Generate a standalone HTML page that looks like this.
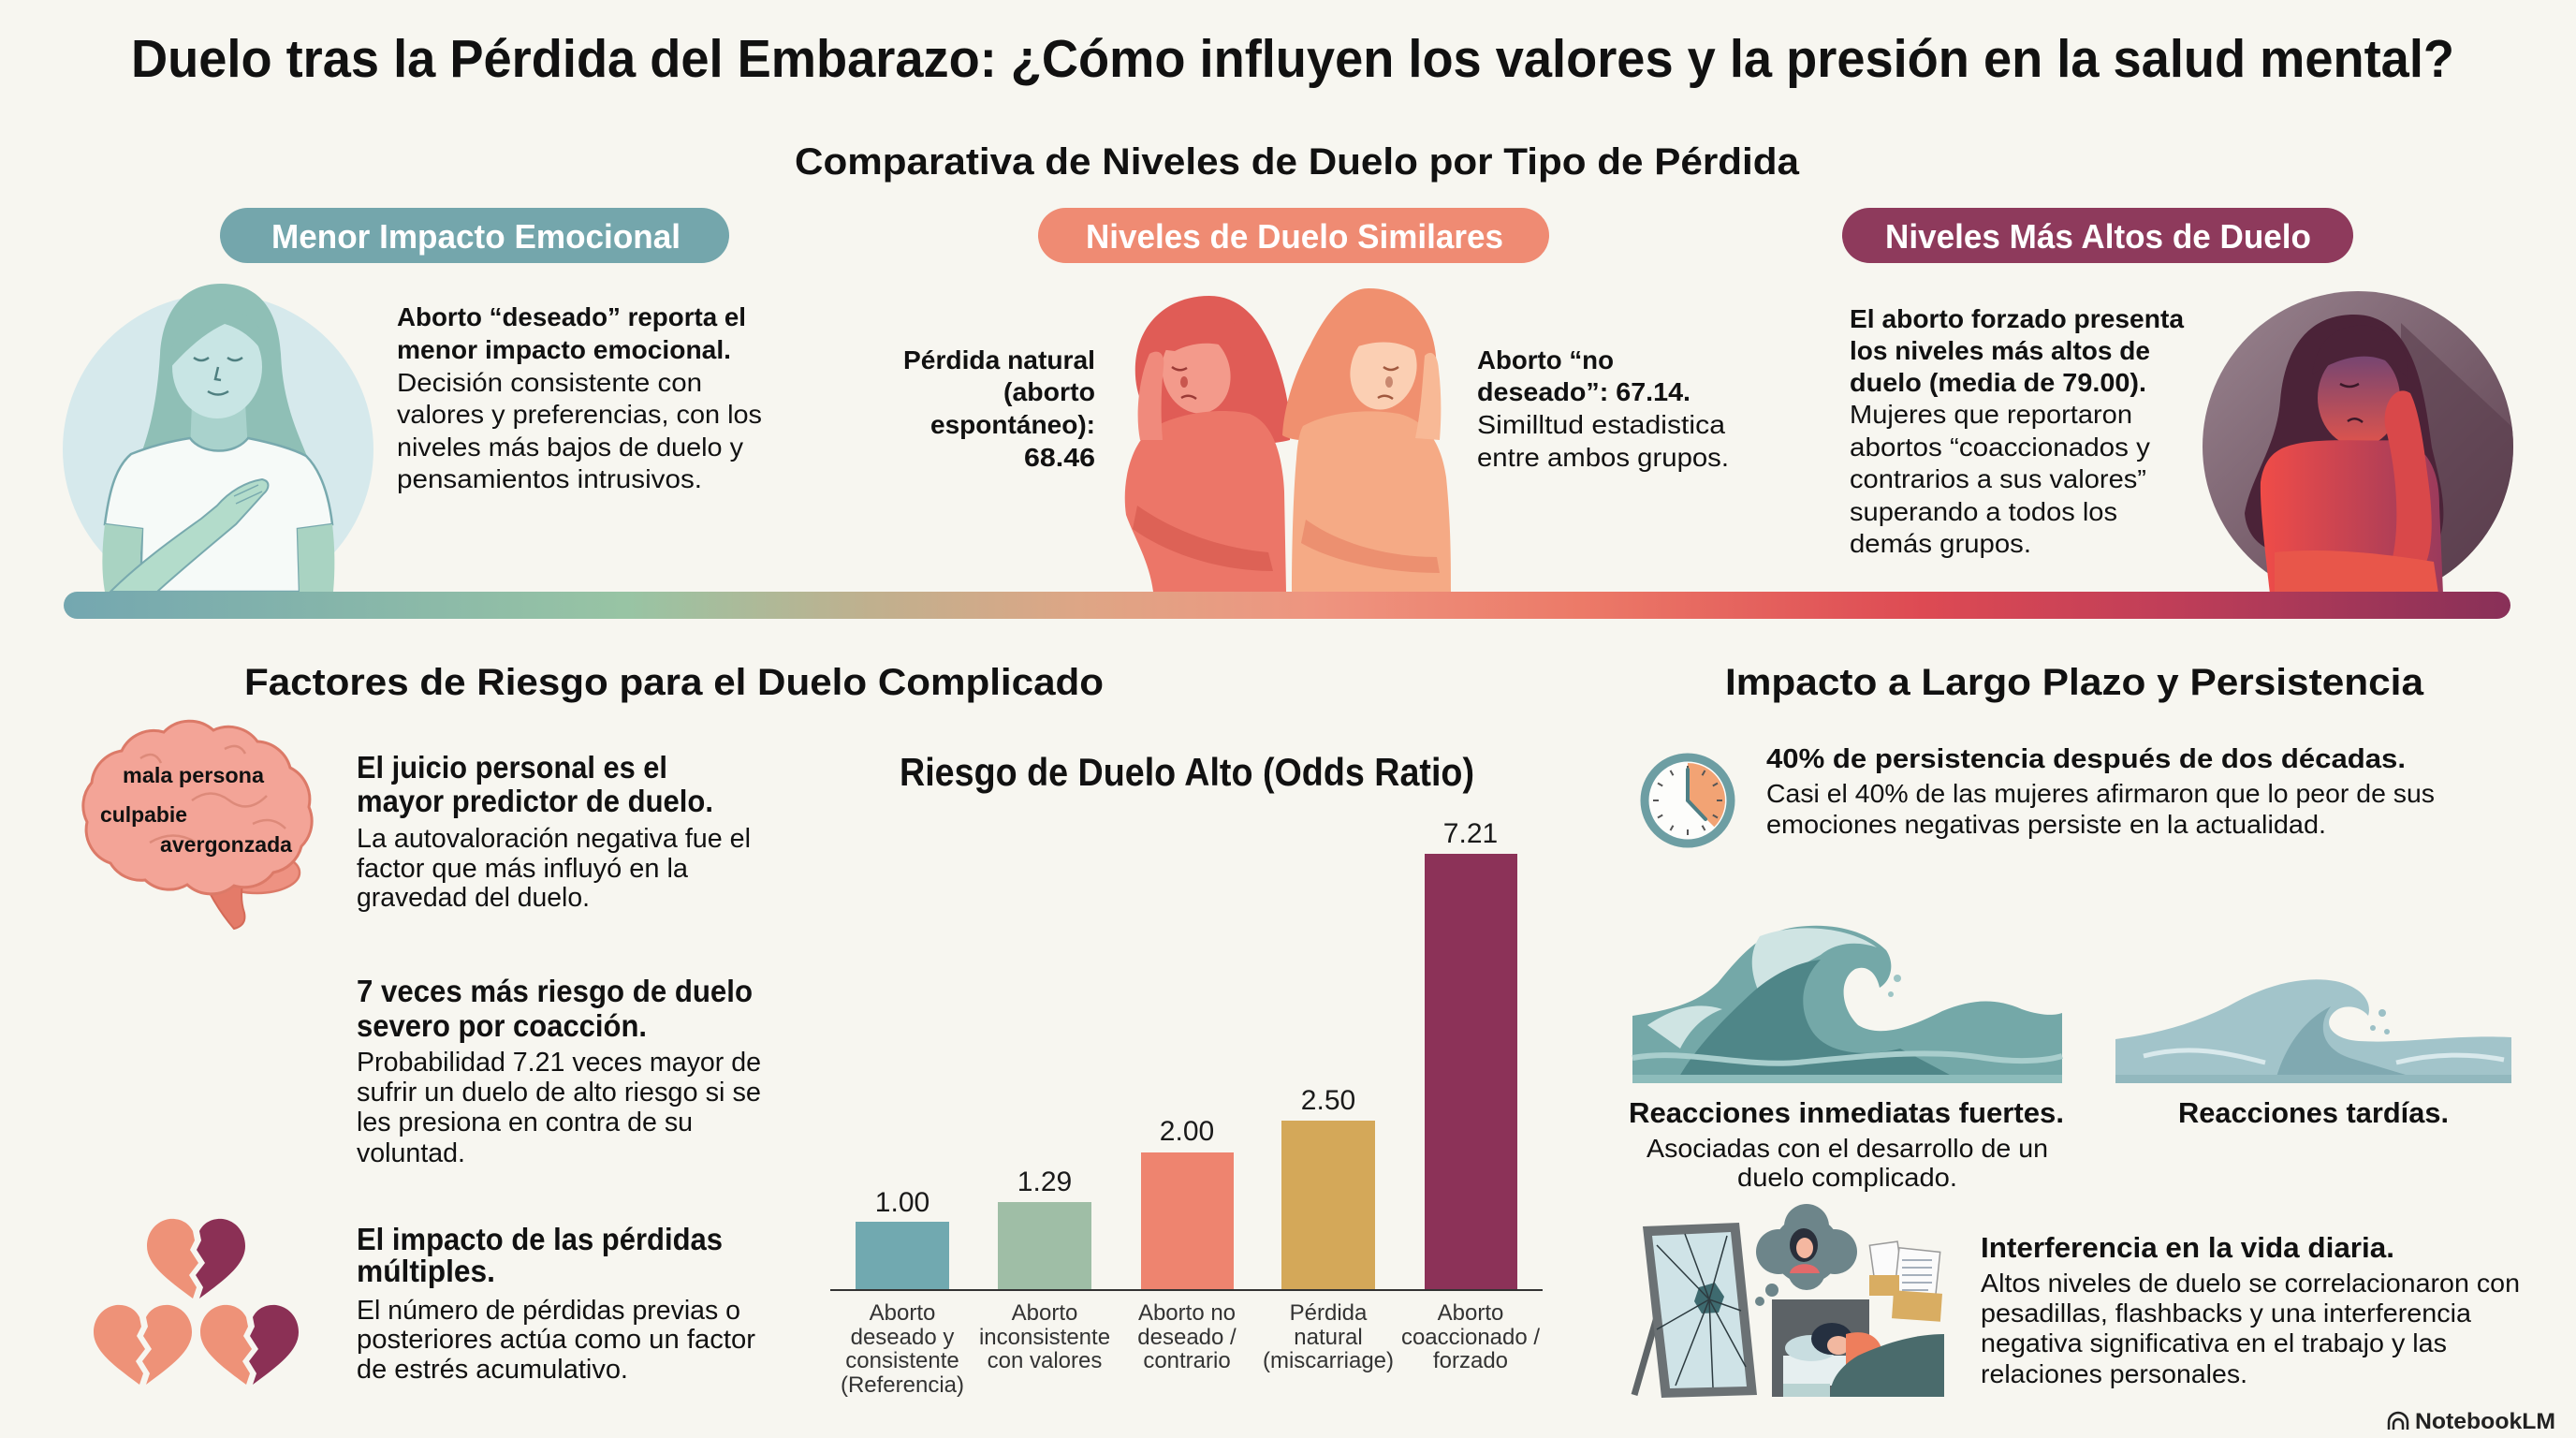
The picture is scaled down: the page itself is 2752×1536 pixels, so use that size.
<!DOCTYPE html>
<html lang="es">
<head>
<meta charset="utf-8">
<title>Duelo tras la Pérdida del Embarazo</title>
<style>
  html,body{margin:0;padding:0;background:#f7f6f0;}
  svg{display:block;font-family:"Liberation Sans","DejaVu Sans",sans-serif;}
  .b{font-weight:bold;}
</style>
</head>
<body>
<svg width="2752" height="1536" viewBox="0 0 2752 1536" xmlns="http://www.w3.org/2000/svg">
<defs>
  <linearGradient id="bar" x1="0" y1="0" x2="1" y2="0">
    <stop offset="0" stop-color="#74a7b0"/>
    <stop offset="0.23" stop-color="#98c4a4"/>
    <stop offset="0.33" stop-color="#c0b08e"/>
    <stop offset="0.42" stop-color="#dfa585"/>
    <stop offset="0.51" stop-color="#ee9580"/>
    <stop offset="0.62" stop-color="#ec7a68"/>
    <stop offset="0.76" stop-color="#dd4a53"/>
    <stop offset="0.86" stop-color="#c03e58"/>
    <stop offset="1" stop-color="#883058"/>
  </linearGradient>
  <linearGradient id="circ" x1="0" y1="0" x2="1" y2="1">
    <stop offset="0" stop-color="#9a8590"/>
    <stop offset="1" stop-color="#5a3c4c"/>
  </linearGradient>
  <linearGradient id="faceR" x1="0" y1="0" x2="0" y2="1">
    <stop offset="0" stop-color="#6e4474"/>
    <stop offset="1" stop-color="#e0544c"/>
  </linearGradient>
  <linearGradient id="bodyR" x1="0" y1="0" x2="1" y2="0">
    <stop offset="0" stop-color="#f04c48"/>
    <stop offset="1" stop-color="#9a3a5c"/>
  </linearGradient>
  <clipPath id="cR"><circle cx="2519" cy="477" r="166"/></clipPath>
</defs>

<rect width="2752" height="1536" fill="#f7f6f0"/>

<!-- Titles -->
<text x="140" y="82" font-size="57" class="b" fill="#111" textLength="2482" lengthAdjust="spacingAndGlyphs">Duelo tras la Pérdida del Embarazo: ¿Cómo influyen los valores y la presión en la salud mental?</text>
<text x="849" y="186" font-size="40" class="b" fill="#111" textLength="1073" lengthAdjust="spacingAndGlyphs">Comparativa de Niveles de Duelo por Tipo de Pérdida</text>

<!-- Pills -->
<rect x="235" y="222" width="544" height="59" rx="29.5" fill="#74a6ac"/>
<text x="290" y="265" font-size="36" class="b" fill="#fff" textLength="437" lengthAdjust="spacingAndGlyphs">Menor Impacto Emocional</text>
<rect x="1109" y="222" width="546" height="59" rx="29.5" fill="#ef8b73"/>
<text x="1160" y="265" font-size="36" class="b" fill="#fff" textLength="446" lengthAdjust="spacingAndGlyphs">Niveles de Duelo Similares</text>
<rect x="1968" y="222" width="546" height="59" rx="29.5" fill="#8e3a5c"/>
<text x="2014" y="265" font-size="36" class="b" fill="#fff" textLength="455" lengthAdjust="spacingAndGlyphs">Niveles Más Altos de Duelo</text>

<!-- Left figure (calm woman) -->
<circle cx="233" cy="480" r="166" fill="#d6e9ec"/>
<path d="M236 303 C196 303 174 332 171 378 C168 428 160 462 148 492 L330 492 C316 458 302 428 300 378 C297 330 276 303 236 303 Z" fill="#8fbfb6"/>
<path d="M205 430 L262 430 L265 482 L203 482 Z" fill="#a9d2cc"/>
<ellipse cx="232" cy="392" rx="48" ry="55" fill="#c8e5e4"/>
<path d="M180 395 C182 352 205 330 236 330 C266 330 288 352 290 392 C280 370 262 352 240 346 C220 355 200 372 180 395 Z" fill="#8fbfb6"/>
<path d="M207 382 Q215 388 223 382 M243 382 Q251 388 259 382 M233 392 L230 405 L236 406 M222 418 Q233 425 244 418" stroke="#4f7f80" stroke-width="2.5" fill="none"/>
<path d="M140 485 C165 475 190 470 203 468 C215 485 250 487 265 468 C285 472 310 478 327 487 C345 505 352 535 355 560 L318 565 L320 632 L150 632 L152 565 L112 560 C116 530 122 500 140 485 Z" fill="#f6faf8" stroke="#78a9ae" stroke-width="2.5"/>
<path d="M112 560 L152 565 C150 590 148 612 150 632 L112 632 C108 610 109 585 112 560 Z" fill="#a9d3c2"/>
<path d="M318 565 L355 560 C358 585 358 610 356 632 L320 632 Z" fill="#a9d3c2"/>
<path d="M118 632 C150 600 190 572 215 554 L232 540 C245 525 262 515 280 512 C289 514 288 522 281 528 C273 537 263 548 252 560 C226 582 192 610 168 632 Z" fill="#b3dccb" stroke="#78a9ae" stroke-width="2"/>
<path d="M250 530 L276 518 M252 538 L280 525" stroke="#78a9ae" stroke-width="1.5" fill="none"/>

<!-- Left text block -->
<g font-size="28" fill="#111">
<text x="424" y="348" class="b" textLength="373" lengthAdjust="spacingAndGlyphs">Aborto “deseado” reporta el</text>
<text x="424" y="383" class="b" textLength="357" lengthAdjust="spacingAndGlyphs">menor impacto emocional.</text>
<text x="424" y="418" textLength="326" lengthAdjust="spacingAndGlyphs">Decisión consistente con</text>
<text x="424" y="452" textLength="390" lengthAdjust="spacingAndGlyphs">valores y preferencias, con los</text>
<text x="424" y="487" textLength="370" lengthAdjust="spacingAndGlyphs">niveles más bajos de duelo y</text>
<text x="424" y="521" textLength="326" lengthAdjust="spacingAndGlyphs">pensamientos intrusivos.</text>
</g>

<!-- Middle text (left) -->
<g font-size="28" fill="#111" class="b" text-anchor="end">
<text x="1170" y="394" textLength="205" lengthAdjust="spacingAndGlyphs">Pérdida natural</text>
<text x="1170" y="428" textLength="98" lengthAdjust="spacingAndGlyphs">(aborto</text>
<text x="1170" y="463" textLength="176" lengthAdjust="spacingAndGlyphs">espontáneo):</text>
<text x="1170" y="498" textLength="76" lengthAdjust="spacingAndGlyphs">68.46</text>
</g>

<!-- Middle women -->
<path d="M1292 316 C1248 316 1216 345 1213 388 C1211 420 1222 445 1245 458 L1300 470 C1330 475 1360 475 1378 470 C1380 440 1372 405 1360 375 C1345 338 1322 316 1292 316 Z" fill="#e05c56"/>
<ellipse cx="1278" cy="398" rx="36" ry="44" transform="rotate(-15 1278 398)" fill="#f39a8b"/>
<path d="M1230 372 C1240 340 1270 325 1300 332 C1320 340 1330 360 1330 380 C1310 365 1280 362 1255 375 Z" fill="#e05c56"/>
<path d="M1230 458 C1260 440 1305 435 1335 442 C1360 452 1370 485 1372 525 L1374 632 L1232 632 C1228 600 1212 575 1203 550 C1198 515 1208 475 1230 458 Z" fill="#ec7668"/>
<path d="M1218 470 C1212 440 1218 400 1228 378 C1238 372 1245 378 1243 392 C1240 420 1240 445 1242 470 Z" fill="#f08a7c"/>
<path d="M1215 540 C1250 565 1300 585 1355 590 L1360 610 C1300 610 1245 590 1210 565 Z" fill="#dd6256"/>
<path d="M1252 392 Q1260 398 1268 393 M1262 425 Q1270 420 1278 426" stroke="#9a3a36" stroke-width="2.5" fill="none"/>
<ellipse cx="1265" cy="408" rx="4" ry="6" fill="#c9564e"/>

<path d="M1462 308 C1505 308 1530 338 1534 380 C1537 420 1528 450 1510 465 L1420 470 C1395 472 1378 470 1370 465 C1372 430 1385 395 1400 368 C1418 332 1438 308 1462 308 Z" fill="#f0906f"/>
<ellipse cx="1478" cy="395" rx="35" ry="43" transform="rotate(15 1478 395)" fill="#fbcfb3"/>
<path d="M1445 372 C1455 340 1480 328 1505 335 C1520 345 1527 365 1525 385 C1505 365 1478 360 1445 372 Z" fill="#f0906f"/>
<path d="M1392 455 C1420 440 1460 436 1495 442 C1525 450 1540 475 1545 510 C1550 560 1550 600 1550 632 L1380 632 C1380 580 1382 520 1385 490 C1386 475 1388 462 1392 455 Z" fill="#f5aa85"/>
<path d="M1512 468 C1518 440 1520 405 1522 380 C1530 372 1536 380 1537 395 C1540 420 1540 445 1538 470 Z" fill="#f8b996"/>
<path d="M1395 555 C1430 580 1480 595 1535 595 L1538 612 C1480 612 1425 600 1390 580 Z" fill="#ec9070"/>
<path d="M1478 392 Q1486 398 1494 392 M1472 425 Q1480 420 1488 426" stroke="#a0583e" stroke-width="2.5" fill="none"/>
<ellipse cx="1484" cy="408" rx="4" ry="6" fill="#c98870"/>

<!-- Middle text (right) -->
<g font-size="28" fill="#111">
<text x="1578" y="394" class="b" textLength="146" lengthAdjust="spacingAndGlyphs">Aborto “no</text>
<text x="1578" y="428" class="b" textLength="228" lengthAdjust="spacingAndGlyphs">deseado”: 67.14.</text>
<text x="1578" y="463" textLength="265" lengthAdjust="spacingAndGlyphs">Similltud estadistica</text>
<text x="1578" y="498" textLength="269" lengthAdjust="spacingAndGlyphs">entre ambos grupos.</text>
</g>

<!-- Right text block -->
<g font-size="28" fill="#111">
<text x="1976" y="350" class="b" textLength="357" lengthAdjust="spacingAndGlyphs">El aborto forzado presenta</text>
<text x="1976" y="384" class="b" textLength="321" lengthAdjust="spacingAndGlyphs">los niveles más altos de</text>
<text x="1976" y="418" class="b" textLength="317" lengthAdjust="spacingAndGlyphs">duelo (media de 79.00).</text>
<text x="1976" y="452" textLength="302" lengthAdjust="spacingAndGlyphs">Mujeres que reportaron</text>
<text x="1976" y="487" textLength="321" lengthAdjust="spacingAndGlyphs">abortos “coaccionados y</text>
<text x="1976" y="521" textLength="317" lengthAdjust="spacingAndGlyphs">contrarios a sus valores”</text>
<text x="1976" y="556" textLength="286" lengthAdjust="spacingAndGlyphs">superando a todos los</text>
<text x="1976" y="590" textLength="194" lengthAdjust="spacingAndGlyphs">demás grupos.</text>
</g>

<!-- Right circle woman -->
<circle cx="2519" cy="477" r="166" fill="url(#circ)"/>
<g clip-path="url(#cR)">
  <path d="M2565 345 L2720 490 L2720 680 L2565 680 Z" fill="#5a3d4d" opacity="0.6"/>
</g>
<path d="M2515 336 C2462 336 2440 378 2436 428 C2432 478 2405 508 2398 548 C2400 575 2420 590 2440 590 L2598 590 C2620 560 2608 520 2598 478 C2590 420 2580 336 2515 336 Z" fill="#4b2338"/>
<ellipse cx="2520" cy="425" rx="44" ry="52" fill="url(#faceR)"/>
<path d="M2470 400 C2475 360 2500 345 2530 348 C2560 352 2575 375 2572 405 C2555 380 2520 368 2470 400 Z" fill="#4b2338"/>
<path d="M2440 478 C2470 466 2520 472 2560 470 C2592 474 2606 500 2606 540 L2610 634 L2425 634 C2420 590 2414 540 2415 515 C2418 495 2426 484 2440 478 Z" fill="url(#bodyR)"/>
<path d="M2555 600 C2565 560 2560 500 2548 455 C2545 430 2560 410 2575 420 C2585 440 2590 480 2595 520 C2600 560 2598 590 2590 605 Z" fill="#d9484a"/>
<path d="M2430 590 C2480 585 2540 590 2600 600 L2605 634 L2430 634 Z" fill="#e8564a"/>
<path d="M2500 410 Q2510 416 2520 410 M2508 450 Q2516 444 2524 451" stroke="#3a1828" stroke-width="2.5" fill="none"/>

<!-- Gradient bar -->
<rect x="68" y="632" width="2614" height="29" rx="14.5" fill="url(#bar)"/>

<!-- Section headings -->
<text x="261" y="742" font-size="40" class="b" fill="#111" textLength="918" lengthAdjust="spacingAndGlyphs">Factores de Riesgo para el Duelo Complicado</text>
<text x="1843" y="742" font-size="40" class="b" fill="#111" textLength="746" lengthAdjust="spacingAndGlyphs">Impacto a Largo Plazo y Persistencia</text>

<!-- Brain -->
<ellipse cx="275" cy="932" rx="45" ry="22" fill="#ee9282" stroke="#dc7a68" stroke-width="2.5"/>
<path d="M212 928 C224 958 238 978 250 992 C258 990 263 985 261 975 C256 960 258 945 262 930 Z" fill="#e47b69" stroke="#d46a58" stroke-width="2"/>
<path d="M118 922 A38 38 0 0 1 93 878 A38 38 0 0 1 98 836 A38 38 0 0 1 130 802 A38 38 0 0 1 175 782 A38 38 0 0 1 228 780 A38 38 0 0 1 275 792 A38 38 0 0 1 310 820 A38 38 0 0 1 330 862 A38 38 0 0 1 322 904 A38 38 0 0 1 292 932 A38 38 0 0 1 250 946 A38 38 0 0 1 200 945 A38 38 0 0 1 155 940 A38 38 0 0 1 118 922 Z" fill="#f3a497" stroke="#dc7a68" stroke-width="3"/>
<path d="M150 810 Q165 800 172 815 M240 800 Q255 792 262 805 M205 855 Q225 840 245 855 T285 850 M160 900 Q185 885 210 900 M270 880 Q290 870 305 885" stroke="#dd8a7a" stroke-width="2.5" fill="none"/>
<g font-size="23" class="b" fill="#111">
<text x="131" y="836" textLength="151" lengthAdjust="spacingAndGlyphs">mala persona</text>
<text x="107" y="878" textLength="93" lengthAdjust="spacingAndGlyphs">culpabie</text>
<text x="171" y="910" textLength="141" lengthAdjust="spacingAndGlyphs">avergonzada</text>
</g>

<!-- Risk factor texts -->
<g fill="#111">
<text x="381" y="831" font-size="33" class="b" textLength="332" lengthAdjust="spacingAndGlyphs">El juicio personal es el</text>
<text x="381" y="867" font-size="33" class="b" textLength="381" lengthAdjust="spacingAndGlyphs">mayor predictor de duelo.</text>
<text x="381" y="905" font-size="29" textLength="421" lengthAdjust="spacingAndGlyphs">La autovaloración negativa fue el</text>
<text x="381" y="937" font-size="29" textLength="354" lengthAdjust="spacingAndGlyphs">factor que más influyó en la</text>
<text x="381" y="968" font-size="29" textLength="249" lengthAdjust="spacingAndGlyphs">gravedad del duelo.</text>

<text x="381" y="1070" font-size="33" class="b" textLength="423" lengthAdjust="spacingAndGlyphs">7 veces más riesgo de duelo</text>
<text x="381" y="1107" font-size="33" class="b" textLength="310" lengthAdjust="spacingAndGlyphs">severo por coacción.</text>
<text x="381" y="1144" font-size="29" textLength="432" lengthAdjust="spacingAndGlyphs">Probabilidad 7.21 veces mayor de</text>
<text x="381" y="1176" font-size="29" textLength="432" lengthAdjust="spacingAndGlyphs">sufrir un duelo de alto riesgo si se</text>
<text x="381" y="1208" font-size="29" textLength="359" lengthAdjust="spacingAndGlyphs">les presiona en contra de su</text>
<text x="381" y="1241" font-size="29" textLength="116" lengthAdjust="spacingAndGlyphs">voluntad.</text>

<text x="381" y="1335" font-size="33" class="b" textLength="391" lengthAdjust="spacingAndGlyphs">El impacto de las pérdidas</text>
<text x="381" y="1369" font-size="33" class="b" textLength="148" lengthAdjust="spacingAndGlyphs">múltiples.</text>
<text x="381" y="1409" font-size="29" textLength="410" lengthAdjust="spacingAndGlyphs">El número de pérdidas previas o</text>
<text x="381" y="1440" font-size="29" textLength="426" lengthAdjust="spacingAndGlyphs">posteriores actúa como un factor</text>
<text x="381" y="1472" font-size="29" textLength="290" lengthAdjust="spacingAndGlyphs">de estrés acumulativo.</text>
</g>

<!-- Broken hearts -->
<g transform="translate(209,1345)">
  <path d="M-3 -30 C-8 -40 -18 -44 -28 -43 C-42 -41 -52 -29 -52 -14 C-52 6 -30 22 -3 42 L1 30 L-7 17 L3 4 L-6 -10 L-1 -20 Z" fill="#ee9278"/>
  <path d="M4 -30 C9 -40 19 -44 29 -43 C43 -41 53 -29 53 -14 C53 6 31 22 4 42 L8 30 L0 17 L10 4 L1 -10 L6 -20 Z" fill="#8b3055"/>
</g>
<g transform="translate(152,1437)">
  <path d="M-3 -30 C-8 -40 -18 -44 -28 -43 C-42 -41 -52 -29 -52 -14 C-52 6 -30 22 -3 42 L1 30 L-7 17 L3 4 L-6 -10 L-1 -20 Z" fill="#ee9278"/>
  <path d="M4 -30 C9 -40 19 -44 29 -43 C43 -41 53 -29 53 -14 C53 6 31 22 4 42 L8 30 L0 17 L10 4 L1 -10 L6 -20 Z" fill="#ee9278"/>
</g>
<g transform="translate(266,1437)">
  <path d="M-3 -30 C-8 -40 -18 -44 -28 -43 C-42 -41 -52 -29 -52 -14 C-52 6 -30 22 -3 42 L1 30 L-7 17 L3 4 L-6 -10 L-1 -20 Z" fill="#ee9278"/>
  <path d="M4 -30 C9 -40 19 -44 29 -43 C43 -41 53 -29 53 -14 C53 6 31 22 4 42 L8 30 L0 17 L10 4 L1 -10 L6 -20 Z" fill="#8b3055"/>
</g>

<!-- Chart -->
<text x="961" y="839" font-size="42" class="b" fill="#111" textLength="614" lengthAdjust="spacingAndGlyphs">Riesgo de Duelo Alto (Odds Ratio)</text>
<rect x="914" y="1305" width="100" height="73" fill="#71a9b0"/>
<rect x="1066" y="1284" width="100" height="94" fill="#9fbea6"/>
<rect x="1219" y="1231" width="99" height="147" fill="#ee846f"/>
<rect x="1369" y="1197" width="100" height="181" fill="#d4a859"/>
<rect x="1522" y="912" width="99" height="466" fill="#8c3258"/>
<line x1="887" y1="1378" x2="1648" y2="1378" stroke="#333" stroke-width="2"/>
<g font-size="30" fill="#1a1a1a" text-anchor="middle">
<text x="964" y="1294">1.00</text>
<text x="1116" y="1272">1.29</text>
<text x="1268" y="1218">2.00</text>
<text x="1419" y="1185">2.50</text>
<text x="1571" y="900">7.21</text>
</g>
<g font-size="24" fill="#333" text-anchor="middle">
<text x="964" y="1410">Aborto</text>
<text x="964" y="1436">deseado y</text>
<text x="964" y="1461">consistente</text>
<text x="964" y="1487">(Referencia)</text>
<text x="1116" y="1410">Aborto</text>
<text x="1116" y="1436">inconsistente</text>
<text x="1116" y="1461">con valores</text>
<text x="1268" y="1410">Aborto no</text>
<text x="1268" y="1436">deseado /</text>
<text x="1268" y="1461">contrario</text>
<text x="1419" y="1410">Pérdida</text>
<text x="1419" y="1436">natural</text>
<text x="1419" y="1461">(miscarriage)</text>
<text x="1571" y="1410">Aborto</text>
<text x="1571" y="1436">coaccionado /</text>
<text x="1571" y="1461">forzado</text>
</g>

<!-- Clock -->
<circle cx="1803" cy="855" r="46" fill="#fdfdfb" stroke="#6d9ea3" stroke-width="9"/>
<path d="M1803 855 L1803 815 A40 40 0 0 1 1831.3 883.3 Z" fill="#f2a374"/>
<g stroke="#555" stroke-width="2">
<line x1="1803" y1="818" x2="1803" y2="824"/><line x1="1803" y1="886" x2="1803" y2="892"/>
<line x1="1766" y1="855" x2="1772" y2="855"/><line x1="1834" y1="855" x2="1840" y2="855"/>
<line x1="1821.5" y1="823" x2="1818.5" y2="828.2"/><line x1="1835" y1="836.5" x2="1829.8" y2="839.5"/>
<line x1="1835" y1="873.5" x2="1829.8" y2="870.5"/><line x1="1821.5" y1="887" x2="1818.5" y2="881.8"/>
<line x1="1784.5" y1="887" x2="1787.5" y2="881.8"/><line x1="1771" y1="873.5" x2="1776.2" y2="870.5"/>
<line x1="1771" y1="836.5" x2="1776.2" y2="839.5"/><line x1="1784.5" y1="823" x2="1787.5" y2="828.2"/>
</g>
<path d="M1803 855 L1803 822 M1803 855 L1822 875" stroke="#4f7f85" stroke-width="4" stroke-linecap="round"/>

<g fill="#111">
<text x="1887" y="820" font-size="29" class="b" textLength="683" lengthAdjust="spacingAndGlyphs">40% de persistencia después de dos décadas.</text>
<text x="1887" y="857" font-size="28" textLength="714" lengthAdjust="spacingAndGlyphs">Casi el 40% de las mujeres afirmaron que lo peor de sus</text>
<text x="1887" y="890" font-size="28" textLength="598" lengthAdjust="spacingAndGlyphs">emociones negativas persiste en la actualidad.</text>
</g>

<!-- Big wave -->
<path d="M1744 1157 L1744 1085 C1775 1080 1810 1075 1835 1050 C1860 1020 1880 995 1920 990 C1960 985 1995 995 2015 1015 C2025 1030 2020 1048 2008 1055 C2005 1040 1995 1030 1982 1035 C1965 1045 1965 1075 1985 1095 C2010 1110 2045 1095 2075 1080 C2105 1068 2130 1065 2160 1078 C2180 1085 2195 1085 2203 1082 L2203 1157 Z" fill="#74a8a8"/>
<path d="M1880 1000 C1920 985 1975 990 2005 1012 C1985 1005 1962 1006 1945 1020 C1922 1032 1898 1048 1880 1062 C1870 1040 1868 1018 1880 1000 Z" fill="#cfe4e3"/>
<path d="M1790 1157 C1810 1120 1840 1090 1870 1062 C1892 1042 1918 1028 1945 1025 C1925 1045 1920 1075 1935 1100 C1950 1125 1990 1130 2030 1120 L2100 1157 Z" fill="#4f8688"/>
<path d="M1760 1095 C1790 1075 1815 1070 1840 1078 C1820 1085 1805 1100 1795 1120 Z" fill="#cfe4e3"/>
<path d="M1744 1130 C1800 1120 1860 1140 1920 1135 C1990 1128 2060 1120 2120 1130 C2160 1136 2190 1132 2203 1128" stroke="#a9cecd" stroke-width="6" fill="none"/>
<rect x="1744" y="1148" width="459" height="9" fill="#8dbcbb"/>
<circle cx="2027" cy="1045" r="4" fill="#9cc4c4"/><circle cx="2020" cy="1062" r="3" fill="#9cc4c4"/>

<!-- Small wave -->
<path d="M2260 1157 L2260 1110 C2300 1105 2340 1095 2380 1075 C2420 1052 2460 1042 2495 1048 C2520 1053 2535 1068 2530 1085 C2522 1075 2505 1072 2495 1080 C2480 1092 2490 1110 2520 1112 C2570 1115 2620 1105 2683 1108 L2683 1157 Z" fill="#a2c4ca"/>
<path d="M2430 1157 C2440 1120 2460 1090 2490 1075 C2475 1095 2480 1120 2510 1130 L2600 1157 Z" fill="#80a9b1"/>
<path d="M2290 1128 C2340 1115 2380 1125 2420 1135 M2560 1135 C2600 1125 2640 1125 2675 1132" stroke="#d9e9ec" stroke-width="5" fill="none"/>
<rect x="2260" y="1148" width="423" height="9" fill="#92b8be"/>
<circle cx="2545" cy="1082" r="4" fill="#9cc0c6"/><circle cx="2535" cy="1098" r="3" fill="#9cc0c6"/><circle cx="2550" cy="1102" r="3" fill="#9cc0c6"/>

<g fill="#111">
<text x="1740" y="1199" font-size="31" class="b" textLength="465" lengthAdjust="spacingAndGlyphs">Reacciones inmediatas fuertes.</text>
<text x="1759" y="1236" font-size="28" textLength="429" lengthAdjust="spacingAndGlyphs">Asociadas con el desarrollo de un</text>
<text x="1856" y="1267" font-size="28" textLength="235" lengthAdjust="spacingAndGlyphs">duelo complicado.</text>
<text x="2327" y="1199" font-size="31" class="b" textLength="289" lengthAdjust="spacingAndGlyphs">Reacciones tardías.</text>
</g>

<!-- Mirror -->
<line x1="1772" y1="1400" x2="1746" y2="1490" stroke="#5f6568" stroke-width="7"/>
<polygon points="1755,1310 1858,1306 1877,1490 1775,1493" fill="#6b7174"/>
<polygon points="1765,1320 1849,1316 1866,1481 1784,1483" fill="#cfe3e7"/>
<path d="M1815 1375 L1832 1370 L1842 1385 L1836 1402 L1818 1403 L1810 1390 Z" fill="#3e6a6f"/>
<path d="M1826 1388 L1770 1330 M1826 1388 L1800 1318 M1826 1388 L1845 1320 M1826 1388 L1860 1400 M1826 1388 L1865 1460 M1826 1388 L1830 1482 M1826 1388 L1790 1480 M1826 1388 L1770 1420" stroke="#2d3b40" stroke-width="1.5" fill="none"/>

<!-- Thought bubble -->
<g fill="#6d858a">
<circle cx="1930" cy="1335" r="36"/><circle cx="1900" cy="1337" r="24"/><circle cx="1960" cy="1337" r="24"/><circle cx="1930" cy="1310" r="24"/><circle cx="1930" cy="1358" r="20"/>
<circle cx="1893" cy="1378" r="7"/><circle cx="1880" cy="1390" r="5"/>
</g>
<ellipse cx="1927" cy="1330" rx="15" ry="18" fill="#2a2f3a"/>
<ellipse cx="1928" cy="1333" rx="9" ry="11" fill="#f4b7a0"/>
<path d="M1912 1360 C1914 1348 1940 1346 1944 1360 Z" fill="#e36a6a"/>

<!-- Papers -->
<rect x="2000" y="1328" width="30" height="40" fill="#fbfbfb" stroke="#9a9a9a" stroke-width="1.5" transform="rotate(-8 2015 1348)"/>
<rect x="2026" y="1335" width="44" height="55" fill="#fbfbfb" stroke="#9a9a9a" stroke-width="1.5" transform="rotate(6 2048 1362)"/>
<path d="M2032 1346 H2064 M2032 1354 H2064 M2032 1362 H2064 M2032 1370 H2064 M2032 1378 H2060" stroke="#8a98a8" stroke-width="1.5"/>
<rect x="1997" y="1362" width="32" height="22" fill="#d9ad62"/>
<rect x="2022" y="1380" width="52" height="30" fill="#d9ad62" transform="rotate(4 2048 1395)"/>

<!-- Bed -->
<rect x="1893" y="1388" width="104" height="104" fill="#5c6266"/>
<rect x="1905" y="1448" width="172" height="32" fill="#e6eff0"/>
<ellipse cx="1935" cy="1440" rx="28" ry="14" fill="#c8dde0"/>
<ellipse cx="1957" cy="1430" rx="22" ry="17" fill="#253040"/>
<ellipse cx="1964" cy="1437" rx="12" ry="10" fill="#f2b8a0"/>
<path d="M1972 1425 C1990 1420 2005 1425 2010 1440 L2005 1458 L1972 1458 Z" fill="#ee7e5c"/>
<path d="M1985 1448 C2020 1432 2050 1425 2077 1425 L2077 1492 L1955 1492 C1955 1475 1965 1460 1985 1448 Z" fill="#4a6b6c"/>
<rect x="1905" y="1478" width="50" height="14" fill="#b9d3d2"/>

<g fill="#111">
<text x="2116" y="1343" font-size="31" class="b" textLength="442" lengthAdjust="spacingAndGlyphs">Interferencia en la vida diaria.</text>
<text x="2116" y="1380" font-size="28" textLength="576" lengthAdjust="spacingAndGlyphs">Altos niveles de duelo se correlacionaron con</text>
<text x="2116" y="1412" font-size="28" textLength="524" lengthAdjust="spacingAndGlyphs">pesadillas, flashbacks y una interferencia</text>
<text x="2116" y="1444" font-size="28" textLength="498" lengthAdjust="spacingAndGlyphs">negativa significativa en el trabajo y las</text>
<text x="2116" y="1477" font-size="28" textLength="285" lengthAdjust="spacingAndGlyphs">relaciones personales.</text>
</g>

<!-- NotebookLM logo -->
<path d="M2552 1527 V1519 A10 10 0 0 1 2572 1519 V1527 M2557 1527 V1521 A5 5 0 0 1 2567 1521 V1527" stroke="#222" stroke-width="2.5" fill="none"/>
<text x="2580" y="1526" font-size="24" class="b" fill="#222" textLength="150" lengthAdjust="spacingAndGlyphs">NotebookLM</text>
</svg>
</body>
</html>
